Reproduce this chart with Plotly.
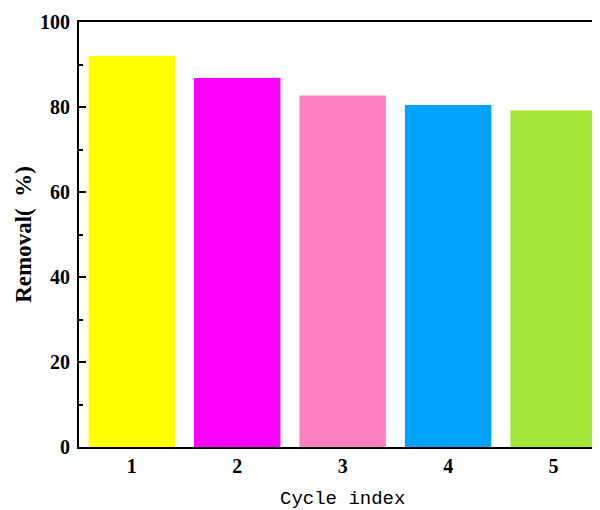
import plotly.graph_objects as go

cycles = [1, 2, 3, 4, 5]
removal = [92.0, 86.8, 82.7, 80.5, 79.2]
colors = ["#FFFF00", "#FF00FF", "#FF80C0", "#00A2FF", "#A3E636"]
y_ticks = [0, 20, 40, 60, 80, 100]

fig = go.Figure()
fig.add_trace(go.Bar(
    x=cycles, y=removal, width=0.82,
    marker=dict(color=colors, line=dict(width=0)),
    showlegend=False,
))

serif = "Liberation Serif"
# page body has an 8px default margin, so the figure is sized to fit 600x510
fig.update_layout(
    width=592, height=502,
    margin=dict(l=71, r=0, t=14, b=63),
    plot_bgcolor="white", paper_bgcolor="white",
    xaxis=dict(
        range=[0.5, 5.44], tickvals=cycles, ticktext=[str(c) for c in cycles],
        showline=True, linecolor="black", linewidth=2, mirror=True,
        ticks="", showgrid=False, zeroline=False,
        tickfont=dict(family=serif, size=20, color="black", weight="bold"),
    ),
    yaxis=dict(
        range=[0, 100], tickvals=y_ticks,
        showline=True, linecolor="black", linewidth=2,
        ticks="inside", ticklen=7, tickwidth=2, tickcolor="black",
        minor=dict(ticks="inside", ticklen=4, tickwidth=2, tickcolor="black", dtick=10),
        showgrid=False, zeroline=False, ticklabelstandoff=3,
        tickfont=dict(family=serif, size=20, color="black", weight="bold"),
        title=dict(text="Removal(\u00a0 %)", font=dict(family=serif, size=23, color="black", weight="bold"), standoff=2),
    ),
    annotations=[dict(
        text="Cycle index", x=3.0, xref="x", y=-52/425, yref="paper", yanchor="middle",
        showarrow=False, font=dict(family="Liberation Mono", size=19, color="black"),
    )],
)

fig.write_html("out.html")
